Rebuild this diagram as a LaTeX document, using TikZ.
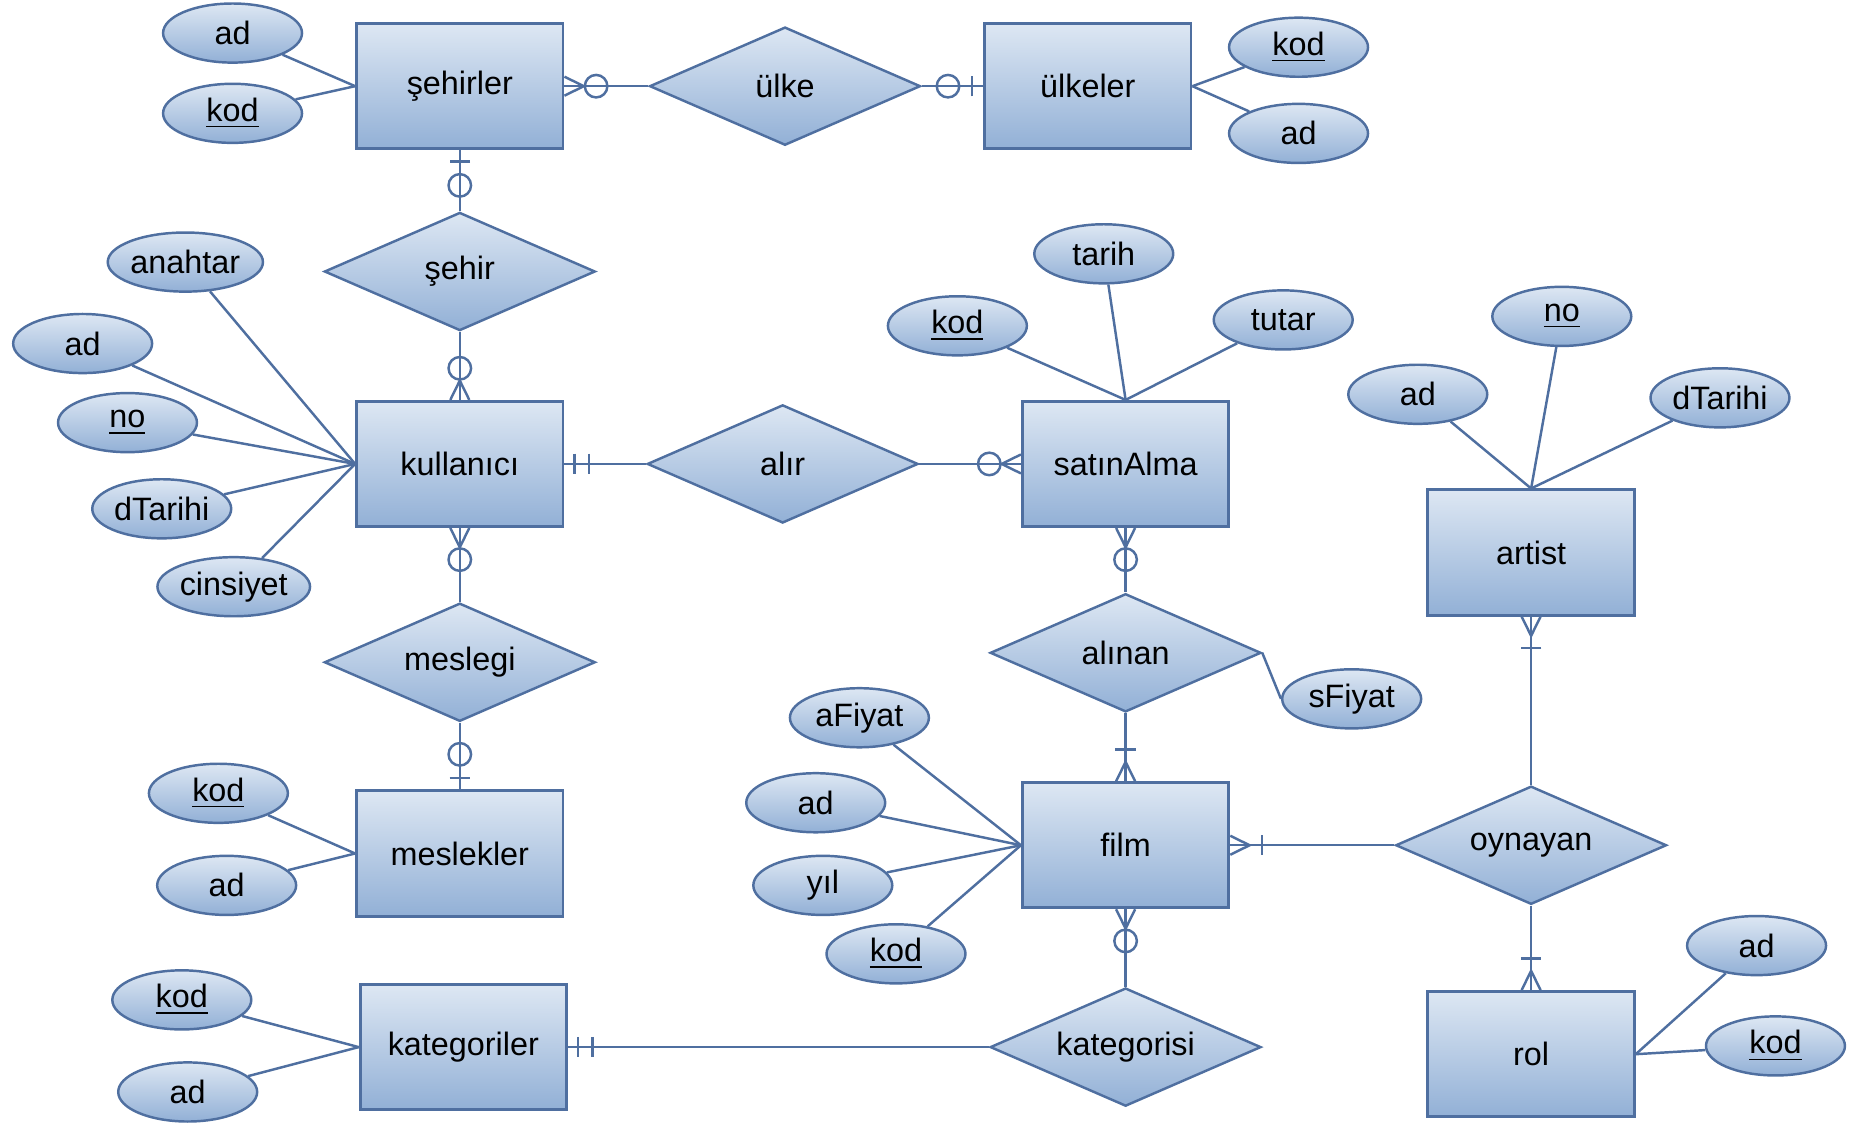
\documentclass[tikz,border=0pt]{standalone}
\usepackage{fontspec}
\setmainfont{Liberation Sans}
\usetikzlibrary{shapes.geometric,decorations.markings}

\definecolor{erline}{RGB}{79,111,160}
\definecolor{ertop}{RGB}{221,231,243}
\definecolor{erbot}{RGB}{146,176,214}

\newcommand{\erfoot}{\draw[con] (0pt,2.7pt) -- (5.5pt,0pt) -- (0pt,-2.7pt);}
\newcommand{\erring}[1]{\draw[con] (#1,0pt) circle (3.2pt);}
\newcommand{\erbar}[1]{\draw[con] (#1,2.9pt) -- (#1,-2.9pt);}

\tikzset{
  every node/.style={font=\fontsize{9.2}{11}\selectfont},
  ent/.style={rectangle,draw=erline,line width=0.8pt,top color=ertop,bottom color=erbot,
    minimum width=58.7pt,minimum height=35.6pt,inner sep=0pt},
  rel/.style={diamond,aspect=2.3,draw=erline,line width=0.7pt,top color=ertop,bottom color=erbot,
    minimum width=77pt,minimum height=33.6pt,inner sep=0pt},
  attr/.style={ellipse,draw=erline,line width=0.7pt,top color=ertop,bottom color=erbot,
    minimum width=39.5pt,minimum height=16.8pt,inner sep=0pt},
  con/.style={draw=erline,line width=0.7pt},
  zmany/.style={postaction={decorate,decoration={markings,mark=at position 0pt with {\erfoot\erring{9pt}}}}},
  omany/.style={postaction={decorate,decoration={markings,mark=at position 0pt with {\erfoot\erbar{9pt}}}}},
  zone/.style={postaction={decorate,decoration={markings,mark=at position 0pt with {\erbar{3.2pt}\erring{10pt}}}}},
  oone/.style={postaction={decorate,decoration={markings,mark=at position 0pt with {\erbar{2.8pt}\erbar{7pt}}}}},
}

\begin{document}
\begin{tikzpicture}[x=0.0118cm,y=-0.0118cm]
\useasboundingbox (0,0) rectangle (1568,951);

\node[ent] (seh) at (389.5,73) {şehirler};
\node[ent] (ulk) at (921.5,73) {ülkeler};
\node[ent] (kul) at (389.5,393) {kullanıcı};
\node[ent] (sat) at (953.5,393) {satınAlma};
\node[ent] (art) at (1297,468) {artist};
\node[ent] (mes) at (389.5,723) {meslekler};
\node[ent] (film) at (953.5,716) {film};
\node[ent] (kat) at (392.5,887) {kategoriler};
\node[ent] (rol) at (1297,893) {rol};

\node[rel] (ulke) at (665,73) {ülke};
\node[rel] (sehir) at (389.5,230) {şehir};
\node[rel] (alir) at (663,393) {alır};
\node[rel] (meslegi) at (389.5,561) {meslegi};
\node[rel] (alinan) at (953.5,553) {alınan};
\node[rel] (oynayan) at (1297,716) {oynayan};
\node[rel] (katr) at (953.5,887) {kategorisi};

\node[attr] (sehad) at (197,28) {ad};
\node[attr] (sehkod) at (197,96) {\underline{kod}};
\node[attr] (ulkkod) at (1100,40) {\underline{kod}};
\node[attr] (ulkad) at (1100,113) {ad};
\node[attr] (kulanahtar) at (157,222) {anahtar};
\node[attr] (kulad) at (70,291) {ad};
\node[attr] (kulno) at (108,358) {\underline{no}};
\node[attr] (kultarih) at (137,431) {dTarihi};
\node[attr] (kulcins) at (198,497) {cinsiyet};
\node[attr] (sattarih) at (935,215) {tarih};
\node[attr] (satkod) at (811,276) {\underline{kod}};
\node[attr] (sattutar) at (1087,271) {tutar};
\node[attr] (artno) at (1323,268) {\underline{no}};
\node[attr] (artad) at (1201,334) {ad};
\node[attr] (arttarih) at (1457,337) {dTarihi};
\node[attr] (sfiyat) at (1145,592) {sFiyat};
\node[attr] (afiyat) at (728,608) {aFiyat};
\node[attr] (filmad) at (691,680) {ad};
\node[attr] (filmyil) at (697,750) {yıl};
\node[attr] (filmkod) at (759,808) {\underline{kod}};
\node[attr] (meskod) at (185,672) {\underline{kod}};
\node[attr] (mesad) at (192,750) {ad};
\node[attr] (katkod) at (154,847) {\underline{kod}};
\node[attr] (katad) at (159,925) {ad};
\node[attr] (rolad) at (1488,801) {ad};
\node[attr] (rolkod) at (1504,886) {\underline{kod}};

\foreach \a in {sehad,sehkod} \draw[con] (\a) -- (seh.west);
\foreach \a in {ulkkod,ulkad} \draw[con] (\a) -- (ulk.east);
\foreach \a in {kulanahtar,kulad,kulno,kultarih,kulcins} \draw[con] (\a) -- (kul.west);
\foreach \a in {sattarih,satkod,sattutar} \draw[con] (\a) -- (sat.north);
\foreach \a in {artno,artad,arttarih} \draw[con] (\a) -- (art.north);
\foreach \a in {afiyat,filmad,filmyil,filmkod} \draw[con] (\a) -- (film.west);
\foreach \a in {meskod,mesad} \draw[con] (\a) -- (mes.west);
\foreach \a in {katkod,katad} \draw[con] (\a) -- (kat.west);
\foreach \a in {rolad,rolkod} \draw[con] (\a) -- (rol.east);
\draw[con] (alinan.east) -- (sfiyat.west);

\draw[con,zmany] (seh) -- (ulke);
\draw[con,zone] (ulk) -- (ulke);
\draw[con,zone] (seh) -- (sehir);
\draw[con,zmany] (kul) -- (sehir);
\draw[con,oone] (kul) -- (alir);
\draw[con,zmany] (sat) -- (alir);
\draw[con,zmany] (kul) -- (meslegi);
\draw[con,zone] (mes) -- (meslegi);
\draw[con,zmany] (sat) -- (alinan);
\draw[con,omany] (film) -- (alinan);
\draw[con,omany] (film) -- (oynayan);
\draw[con,omany] (art) -- (oynayan);
\draw[con,omany] (rol) -- (oynayan);
\draw[con,zmany] (film) -- (katr);
\draw[con,oone] (kat) -- (katr);
\end{tikzpicture}
\end{document}
